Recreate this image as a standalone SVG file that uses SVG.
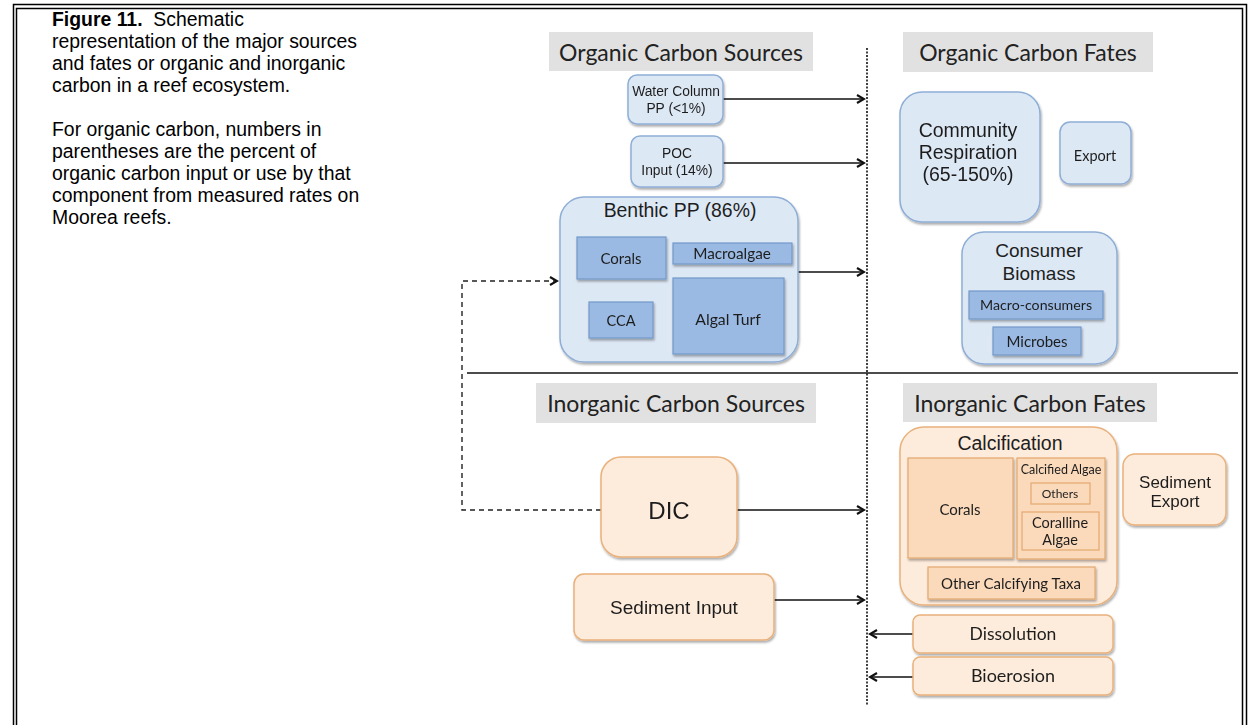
<svg xmlns="http://www.w3.org/2000/svg" width="1248" height="725" viewBox="0 0 1248 725">
<defs>
<style>
.cap{font-family:"Liberation Sans",Arial,sans-serif;font-size:19.4px;fill:#000}
.ttl{font-family:Lato,"Open Sans",sans-serif;font-size:23px;fill:#222;text-anchor:middle}
.tbox{fill:#e1e1e1}
.a{font-family:"Liberation Sans",Arial,sans-serif;fill:#1e1e1e;text-anchor:middle}
.c{font-family:Lato,"Open Sans",sans-serif;fill:#1e1e1e;text-anchor:middle}
.bo{fill:#dde8f5;stroke:#8eaed6;stroke-width:1.5}
.bi{fill:#9abae3;stroke:#7398c8;stroke-width:1.2}
.oo{fill:#fdebdb;stroke:#e9b17c;stroke-width:1.5}
.oi{fill:#fbd9bb;stroke:#e3a86f;stroke-width:1.2}
.ln{stroke:#111;stroke-width:1.6;fill:none}
.dash{stroke:#222;stroke-width:1.4;fill:none;stroke-dasharray:5,4}
</style>
<filter id="sh" x="-10%" y="-10%" width="130%" height="130%">
<feDropShadow dx="1" dy="2" stdDeviation="1.3" flood-color="#000" flood-opacity="0.32"/>
</filter>
<marker id="ar" markerWidth="10" markerHeight="10" refX="8" refY="5" orient="auto" markerUnits="userSpaceOnUse">
<path d="M1,1 L8,5 L1,9" fill="none" stroke="#111" stroke-width="2.2"/>
</marker>
</defs>
<rect width="1248" height="725" fill="#fff"/>
<!-- frame -->
<rect x="13.5" y="4.5" width="1233" height="800" fill="none" stroke="#000" stroke-width="1.5"/>
<rect x="16.5" y="8.5" width="1226" height="800" fill="none" stroke="#000" stroke-width="1.5"/>

<g id="caption">
<text class="cap" x="52" y="26" xml:space="preserve"><tspan font-weight="bold">Figure 11.</tspan>  Schematic</text>
<text class="cap" x="52" y="48">representation of the major sources</text>
<text class="cap" x="52" y="70">and fates or organic and inorganic</text>
<text class="cap" x="52" y="92">carbon in a reef ecosystem.</text>
<text class="cap" x="52" y="136">For organic carbon, numbers in</text>
<text class="cap" x="52" y="158">parentheses are the percent of</text>
<text class="cap" x="52" y="180">organic carbon input or use by that</text>
<text class="cap" x="52" y="202">component from measured rates on</text>
<text class="cap" x="52" y="224">Moorea reefs.</text>
</g>

<g id="titles">
<rect class="tbox" x="549" y="32" width="264" height="39"/>
<text class="ttl" x="681" y="61">Organic Carbon Sources</text>
<rect class="tbox" x="903" y="32" width="250" height="40"/>
<text class="ttl" x="1028" y="61">Organic Carbon Fates</text>
<rect class="tbox" x="536" y="383" width="280" height="40"/>
<text class="ttl" x="676" y="412">Inorganic Carbon Sources</text>
<rect class="tbox" x="903" y="383" width="254" height="39"/>
<text class="ttl" x="1030" y="412">Inorganic Carbon Fates</text>
</g>

<g id="connectors">
<line class="ln" x1="867" y1="48" x2="867" y2="705" stroke-dasharray="2,1.5" stroke-width="1.2"/>
<line class="ln" x1="467" y1="373" x2="1238" y2="373" stroke-width="2"/>
<line class="ln" x1="723" y1="99" x2="864" y2="99" marker-end="url(#ar)"/>
<line class="ln" x1="723" y1="163" x2="864" y2="163" marker-end="url(#ar)"/>
<line class="ln" x1="798" y1="272" x2="864" y2="272" marker-end="url(#ar)"/>
<line class="ln" x1="737" y1="510" x2="864" y2="510" marker-end="url(#ar)"/>
<line class="ln" x1="774" y1="600" x2="864" y2="600" marker-end="url(#ar)"/>
<line class="ln" x1="913" y1="634" x2="870" y2="634" marker-end="url(#ar)"/>
<line class="ln" x1="913" y1="677" x2="870" y2="677" marker-end="url(#ar)"/>
<path class="dash" d="M601,510 H462 V281 H557" marker-end="url(#ar)"/>
</g>

<g id="water-column" filter="url(#sh)">
<rect class="bo" x="628" y="75" width="95" height="49" rx="9"/>
<text class="a" x="676" y="96" font-size="13.8">Water Column</text>
<text class="a" x="676" y="113" font-size="13.8">PP (&lt;1%)</text>
</g>
<g id="poc" filter="url(#sh)">
<rect class="bo" x="631" y="136" width="92" height="51" rx="9"/>
<text class="a" x="677" y="158" font-size="13.8">POC</text>
<text class="a" x="677" y="175" font-size="13.8">Input (14%)</text>
</g>
<g id="benthic-pp">
<rect class="bo" x="560" y="197" width="238" height="165" rx="24" filter="url(#sh)"/>
<text class="a" x="680" y="217" font-size="19.4">Benthic PP (86%)</text>
<g id="b-corals" filter="url(#sh)"><rect class="bi" x="577" y="237" width="89" height="42"/><text class="c" x="621" y="264" font-size="15">Corals</text></g>
<g id="b-macroalgae" filter="url(#sh)"><rect class="bi" x="673" y="243" width="119" height="21"/><text class="c" x="732" y="259" font-size="15.3">Macroalgae</text></g>
<g id="b-cca" filter="url(#sh)"><rect class="bi" x="589" y="302" width="64" height="36"/><text class="c" x="621" y="326" font-size="14.5">CCA</text></g>
<g id="b-algal-turf" filter="url(#sh)"><rect class="bi" x="673" y="278" width="111" height="76"/><text class="c" x="728" y="325" font-size="15.8">Algal Turf</text></g>
</g>

<g id="community-respiration" filter="url(#sh)">
<rect class="bo" x="900" y="92" width="140" height="130" rx="22"/>
<text class="a" x="968" y="137" font-size="19.5">Community</text>
<text class="a" x="968" y="159" font-size="19.5">Respiration</text>
<text class="a" x="968" y="181" font-size="19.5">(65-150%)</text>
</g>
<g id="export" filter="url(#sh)">
<rect class="bo" x="1060" y="122" width="71" height="62" rx="10"/>
<text class="c" x="1095" y="161" font-size="14.5">Export</text>
</g>
<g id="consumer-biomass">
<rect class="bo" x="962" y="232" width="155" height="132" rx="22" filter="url(#sh)"/>
<text class="a" x="1039" y="257" font-size="19">Consumer</text>
<text class="a" x="1039" y="280" font-size="19">Biomass</text>
<g id="macro-consumers" filter="url(#sh)"><rect class="bi" x="969" y="291" width="134" height="28"/><text class="c" x="1036" y="310" font-size="14.2">Macro-consumers</text></g>
<g id="microbes" filter="url(#sh)"><rect class="bi" x="993" y="327" width="88" height="28"/><text class="c" x="1037" y="347" font-size="15">Microbes</text></g>
</g>

<g id="dic" filter="url(#sh)">
<rect class="oo" x="601" y="457" width="136" height="100" rx="20"/>
<text class="a" x="669" y="519" font-size="24">DIC</text>
</g>
<g id="sediment-input" filter="url(#sh)">
<rect class="oo" x="574" y="574" width="200" height="66" rx="10"/>
<text class="a" x="674" y="614" font-size="19">Sediment Input</text>
</g>

<g id="calcification">
<rect class="oo" x="900" y="427" width="217" height="178" rx="24" filter="url(#sh)"/>
<text class="a" x="1010" y="450" font-size="19.5">Calcification</text>
<g id="c-corals" filter="url(#sh)"><rect class="oi" x="908" y="458" width="105" height="100"/><text class="c" x="960" y="515" font-size="15">Corals</text></g>
<g id="calcified-algae" filter="url(#sh)"><rect class="oi" x="1017" y="458" width="88" height="101"/><text class="c" x="1061" y="474" font-size="12.5">Calcified Algae</text>
<g id="others"><rect class="oi" x="1031" y="483" width="59" height="21"/><text class="c" x="1060" y="498" font-size="12">Others</text></g>
<g id="coralline-algae"><rect class="oi" x="1022" y="512" width="77" height="38"/><text class="c" x="1060" y="528" font-size="14.5">Coralline</text><text class="c" x="1060" y="545" font-size="14.5">Algae</text></g>
</g>
<g id="other-calcifying-taxa" filter="url(#sh)"><rect class="oi" x="928" y="567" width="167" height="32"/><text class="c" x="1011" y="589" font-size="15">Other Calcifying Taxa</text></g>
</g>
<g id="sediment-export" filter="url(#sh)">
<rect class="oo" x="1123" y="454" width="103" height="71" rx="12"/>
<text class="a" x="1175" y="488" font-size="17">Sediment</text>
<text class="a" x="1175" y="507" font-size="17">Export</text>
</g>
<g id="dissolution" filter="url(#sh)">
<rect class="oo" x="913" y="615" width="200" height="38" rx="7"/>
<text class="c" x="1013" y="640" font-size="17.5">Dissolution</text>
</g>
<g id="bioerosion" filter="url(#sh)">
<rect class="oo" x="913" y="657" width="200" height="38" rx="7"/>
<text class="c" x="1013" y="682" font-size="18">Bioerosion</text>
</g>
</svg>
